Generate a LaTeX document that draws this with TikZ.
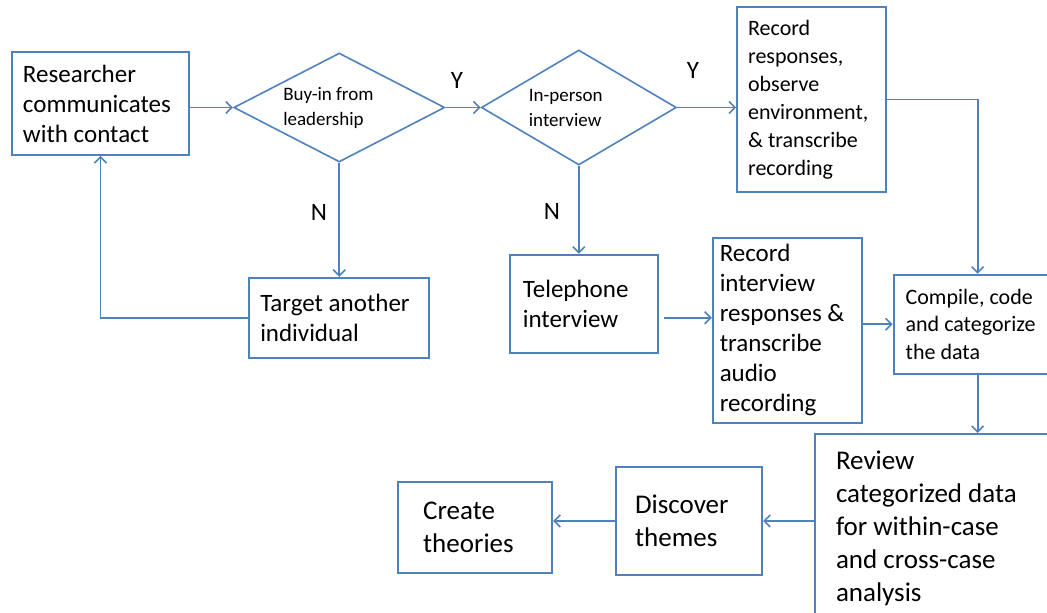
\documentclass[tikz,border=0pt]{standalone}
\usepackage{fontspec}
\setmainfont{Carlito}
\usetikzlibrary{shapes.geometric,arrows.meta,positioning}
\definecolor{flowblue}{RGB}{79,129,189}

\begin{document}
\begin{tikzpicture}[x=1pt, y=-1pt, every node/.style={align=flush left, inner sep=0pt},
	>={Straight Barb[length=6pt,width=12pt,line width=1.6pt]},
	box/.style={draw=flowblue, line width=1.9pt, rectangle},
	choice/.style={draw=flowblue, line width=1.6pt, diamond, aspect=2, font=\fontsize{19}{25}\selectfont},
	lbl/.style={font=\fontsize{25}{30}\selectfont},
	flow/.style={->, draw=flowblue, line width=1.9pt}]
		\useasboundingbox (0,0) rectangle (1047,613);
		\clip (0,0) rectangle (1047,613);
		
		\node[box, minimum width=177pt, minimum height=103pt, text width=155pt, font=\fontsize{25}{30}\selectfont] (res) at (100.5,103.5) {Researcher\\communicates\\with contact};
		
		\node[choice, minimum width=211pt, minimum height=109pt, text width=112pt, right=43pt of res, yshift=-4pt] (buy) {Buy-in from\\leadership};
		
		\node[choice, minimum width=195pt, minimum height=115pt, text width=100pt, right=35pt of buy] (ip) {In-person\\interview};
		
		\node[box, minimum width=149pt, minimum height=185pt, text width=127pt, font=\fontsize{22}{28}\selectfont, right=59pt of ip, yshift=8pt] (rec1) {Record\\responses,\\observe\\environment,\\\& transcribe\\recording};
		
		\node[box, minimum width=180pt, minimum height=80pt, text width=158pt, font=\fontsize{25}{30}\selectfont, below=114pt of buy] (tgt) {Target another\\individual};
		
		\node[box, minimum width=148pt, minimum height=98pt, text width=122pt, font=\fontsize{25}{30}\selectfont, below=88pt of ip, xshift=5pt] (tel) {Telephone\\interview};
		
		\node[box, minimum width=149pt, minimum height=185pt, text width=135pt, font=\fontsize{25}{30}\selectfont, right=53pt of tel, yshift=-26.5pt] (rint) {Record\\interview\\responses \&\\transcribe\\audio\\recording};
		
		\node[box, minimum width=168pt, minimum height=99pt, text width=144pt, font=\fontsize{22}{27.5}\selectfont, right=30pt of rint, yshift=6pt] (cmp) {Compile, code\\and categorize\\the data};
		
		\node[box, minimum width=245pt, minimum height=188pt, text width=203pt, font=\fontsize{27}{33}\selectfont] (rev) at (937.5,528) {Review\\categorized data\\for within-case\\and cross-case\\analysis};
		
		\node[box, minimum width=146pt, minimum height=108pt, text width=108pt, font=\fontsize{27}{33}\selectfont, left=51pt of rev, yshift=7pt] (disc) {Discover\\themes};
		
		\node[box, minimum width=154pt, minimum height=91pt, text width=104pt, font=\fontsize{27}{33}\selectfont, left=62pt of disc, yshift=-6.5pt] (cre) {Create\\theories};
		
		\node[lbl] (yes1) at (457,80) {Y};
		\node[lbl] (yes2) at (693,70) {Y};
		\node[lbl] (no1) at (319,212) {N};
		\node[lbl] (no2) at (552,211) {N};
		
		\draw[flow] (res.east |- buy.west) -- (buy.west);
		\draw[flow] (buy.east) -- (ip.west);
		\draw[flow] (ip.east) -- (ip.east -| rec1.west);
		\draw[flow] (buy.south) -- (tgt.north);
		\draw[flow] (tgt.west) -| (res.south);
		\draw[flow] (ip.south) -- (ip.south |- tel.north);
		\coordinate (telout) at ([xshift=5pt,yshift=-14pt]tel.east);
		\draw[flow] (telout) -- (telout -| rint.west);
		\draw[flow] (rint.east |- cmp.west) -- (cmp.west);
		\draw[flow] (rec1.east) -| (cmp.north);
		\draw[flow] (cmp.south) -- (cmp.south |- rev.north);
		\draw[flow] (rev.west |- disc.east) -- (disc.east);
		\draw[flow] (disc.west) -- (disc.west -| cre.east);
\end{tikzpicture}
\end{document}
